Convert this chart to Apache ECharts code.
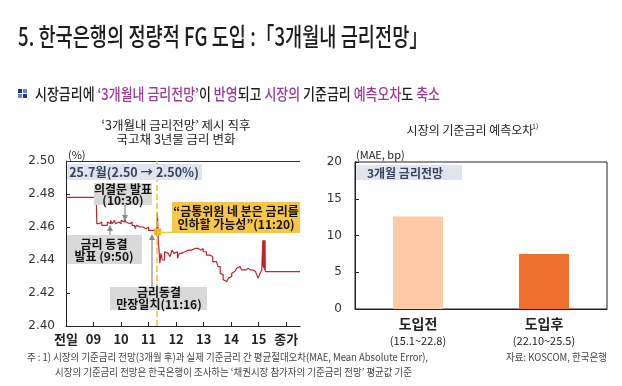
<!DOCTYPE html>
<html><head><meta charset="utf-8">
<script src="https://cdn.jsdelivr.net/npm/echarts@6/dist/echarts.min.js"></script>
<style>html,body{margin:0;padding:0;background:#fff}#c{width:622px;height:386px}</style>
</head><body><div id="c"></div>
<script>
// ---- data ----
const xTickValues = [8, 9, 10, 11, 12, 13, 14, 15, 16];
const xTickLabels = ['전일', '09', '10', '11', '12', '13', '14', '15', '종가'];
const leftYTicks = [2.40, 2.42, 2.44, 2.46, 2.48, 2.50];
const lineTimes = [8.00, 9.10, 9.12, 9.20, 9.25, 9.30, 9.38, 9.45, 9.50, 9.55, 9.62, 9.68, 9.75, 9.80, 9.86, 9.92,
  10.00, 10.05, 10.12, 10.18, 10.25, 10.32, 10.40, 10.48, 10.52, 10.55, 10.60, 10.70, 10.80, 10.90,
  11.00, 11.10, 11.20, 11.30, 11.32, 11.35, 11.38, 11.41, 11.45, 11.50, 11.58, 11.65, 11.72, 11.78, 11.85, 11.92, 11.98,
  12.05, 12.12, 12.20, 12.32, 12.45, 12.55, 12.69, 12.80, 12.90, 12.98,
  13.10, 13.23, 13.33, 13.47, 13.52, 13.60, 13.66, 13.71, 13.78, 13.84, 13.90, 13.96,
  14.02, 14.07, 14.13, 14.20, 14.26, 14.32, 14.38, 14.44, 14.52, 14.62, 14.70, 14.80, 14.88, 14.93, 14.98,
  15.05, 15.11, 15.14, 15.15, 15.16, 15.17, 15.18, 15.19, 15.20, 15.21, 15.22, 15.23, 15.24, 15.26, 16.50];
const lineRates = [2.478, 2.478, 2.462, 2.461, 2.463, 2.461, 2.462, 2.461, 2.463, 2.462, 2.464, 2.462, 2.464, 2.462, 2.463, 2.462,
  2.464, 2.463, 2.465, 2.463, 2.462, 2.463, 2.461, 2.461, 2.459, 2.461, 2.460, 2.460, 2.459, 2.460,
  2.458, 2.458, 2.457, 2.457, 2.469, 2.452, 2.446, 2.438, 2.444, 2.440, 2.445, 2.444, 2.445, 2.442, 2.446, 2.444, 2.445,
  2.441, 2.444, 2.445, 2.446, 2.446, 2.447, 2.447, 2.446, 2.447, 2.445,
  2.443, 2.442, 2.439, 2.438, 2.436, 2.432, 2.431, 2.428, 2.427, 2.426, 2.429, 2.430,
  2.432, 2.433, 2.434, 2.435, 2.436, 2.436, 2.434, 2.434, 2.435, 2.434, 2.434, 2.433, 2.432, 2.431, 2.429,
  2.432, 2.434, 2.434, 2.452, 2.436, 2.452, 2.435, 2.452, 2.435, 2.452, 2.434, 2.452, 2.433, 2.433, 2.433];
const markTime = 11.28;          // "금통위원 ..." comment (11:20)
const markPointTime = 11.33;
const markPointRate = 2.457;
const barCategories = ['도입전', '도입후'];
const barPeriods = ['(15.1~22.8)', '(22.10~25.5)'];
const barValues = [12.6, 7.5];
const barColors = ['#fccba6', '#f0702f'];
const rightYTicks = [0, 5, 10, 15, 20];

// ---- helpers ----
const FF = '"Noto Sans CJK KR", "Noto Sans", sans-serif';
const cv = document.createElement('canvas').getContext('2d');
function fitScale(text, font, w) { cv.font = font; return w / cv.measureText(text).width; }

function boxText(x, y, w, h, fill, lines, cx, ys, font, color) {
  const els = [{ type: 'rect', shape: { x: x, y: y, width: w, height: h }, style: { fill: fill }, z: 10 }];
  lines.forEach((t, i) => els.push({ type: 'text', x: cx, y: ys[i], z: 11,
    style: { text: t, font: font, fill: color, align: 'center', verticalAlign: 'middle' } }));
  return els;
}
function arrow(x, y1, y2, color) {
  const dir = y2 < y1 ? 1 : -1;
  return [
    { type: 'line', shape: { x1: x, y1: y1, x2: x, y2: y2 + dir * 4 }, style: { stroke: color, lineWidth: 1.2 }, z: 12 },
    { type: 'polygon', shape: { points: [[x - 3, y2 + dir * 6], [x + 3, y2 + dir * 6], [x, y2]] }, style: { fill: color }, z: 12 }
  ];
}

const titleFont = '500 25px ' + FF;
const titleText = '5. 한국은행의 정량적 FG 도입 :「3개월내 금리전망」';
const subFont = '500 16px ' + FF;
const subPlain = '시장금리에 ‘3개월내 금리전망’이 반영되고 시장의 기준금리 예측오차도 축소';
const noteFont = '10.5px ' + FF;
const note1 = '주 : 1) 시장의 기준금리 전망(3개월 후)과 실제 기준금리 간 평균절대오차(MAE, Mean Absolute Error),';
const note2 = '시장의 기준금리 전망은 한국은행이 조사하는 ‘채권시장 참가자의 기준금리 전망’ 평균값 기준';
const srcText = '자료: KOSCOM, 한국은행';

const annFont = 'bold 12px ' + FF;
const grey = '#d9d9d9';
const arrowC = '#8a8a8a';

const graphics = [
  { type: 'text', x: 18, y: 36, scaleX: fitScale(titleText, titleFont, 410),
    style: { text: titleText, font: titleFont, fill: '#1d1d1d', verticalAlign: 'middle' } },
  // icon
  { type: 'rect', shape: { x: 18, y: 89, width: 4, height: 4 }, style: { fill: '#1f3b73' } },
  { type: 'rect', shape: { x: 23, y: 89, width: 4, height: 4 }, style: { fill: '#5b8bd0' } },
  { type: 'rect', shape: { x: 18, y: 94, width: 4, height: 4 }, style: { fill: '#5b8bd0' } },
  { type: 'rect', shape: { x: 23, y: 94, width: 4, height: 4 }, style: { fill: '#1f3b73' } },
  { type: 'text', x: 35, y: 94, scaleX: fitScale(subPlain, subFont, 405),
    style: { text: '{k|시장금리에 }{p|‘3개월내 금리전망’}{k|이 }{p|반영}{k|되고 }{p|시장의}{k| 기준금리 }{p|예측오차}{k|도 }{p|축소}',
      verticalAlign: 'middle',
      rich: { k: { fill: '#1d1d1d', font: subFont }, p: { fill: '#9b3a97', font: subFont } } } },
  // chart titles
  { type: 'text', x: 176, y: 125, style: { text: '‘3개월내 금리전망’ 제시 직후', font: '12.5px ' + FF, fill: '#222', align: 'center', verticalAlign: 'middle' } },
  { type: 'text', x: 176, y: 139, style: { text: '국고채 3년물 금리 변화', font: '12.5px ' + FF, fill: '#222', align: 'center', verticalAlign: 'middle' } },
  { type: 'text', x: 68, y: 155, style: { text: '(%)', font: '11px ' + FF, fill: '#222', verticalAlign: 'middle' } },
  { type: 'text', x: 470, y: 130, style: { text: '시장의 기준금리 예측오차', font: '12px ' + FF, fill: '#222', align: 'center', verticalAlign: 'middle' } },
  { type: 'text', x: 532, y: 126, style: { text: '1)', font: '7px ' + FF, fill: '#222', verticalAlign: 'middle' } },
  { type: 'text', x: 356, y: 155, style: { text: '(MAE, bp)', font: '11px ' + FF, fill: '#222', verticalAlign: 'middle' } },
  // top border of left plot
  { type: 'line', shape: { x1: 66, y1: 161.5, x2: 300, y2: 161.5 }, style: { stroke: '#333', lineWidth: 1 }, z: 5 },
  // notes
  { type: 'text', x: 27, y: 357, scaleX: fitScale(note1, noteFont, 401), style: { text: note1, font: noteFont, fill: '#444', verticalAlign: 'middle' } },
  { type: 'text', x: 55, y: 372, scaleX: fitScale(note2, noteFont, 357), style: { text: note2, font: noteFont, fill: '#444', verticalAlign: 'middle' } },
  { type: 'text', x: 506, y: 357, scaleX: fitScale(srcText, noteFont, 101), style: { text: srcText, font: noteFont, fill: '#444', verticalAlign: 'middle' } },
  // legend-like boxes
  ...boxText(67, 164, 135, 16, '#dfe4ee', ['25.7월(2.50 → 2.50%)'], 134, [172], 'bold 12.5px ' + FF, '#34435e'),
  ...boxText(356, 165, 106, 15, '#dfe4ee', ['3개월 금리전망'], 405, [173], 'bold 12px ' + FF, '#34435e'),
  // annotations
  ...boxText(94, 183, 58, 22, grey, ['의결문 발표', '(10:30)'], 123, [189, 200], annFont, '#111'),
  ...arrow(125, 205, 221, arrowC),
  ...boxText(67, 235, 75, 29, grey, ['금리 동결', '발표 (9:50)'], 104, [244, 256], annFont, '#111'),
  ...arrow(110, 235, 225, arrowC),
  ...boxText(110, 287, 97, 23, grey, ['금리동결', '만장일치(11:16)'], 159, [292, 304], annFont, '#111'),
  ...arrow(152, 287, 234, arrowC),
  ...boxText(172, 202, 128, 31, '#f6c646', ['“금통위원 네 분은 금리를', '인하할 가능성”(11:20)'], 236, [211, 224], annFont, '#111'),
  { type: 'line', shape: { x1: 158, y1: 232.5, x2: 172, y2: 232.5 }, style: { stroke: '#f6c646', lineWidth: 1.5 }, z: 9 }
];

const chart = echarts.init(document.getElementById('c'), null, { renderer: 'canvas' });
chart.setOption({
  animation: false,
  textStyle: { fontFamily: FF },
  grid: [
    { left: 66, top: 161, width: 234, height: 165 },
    { left: 355, top: 162, width: 252, height: 147, show: true, borderColor: '#222', borderWidth: 1 }
  ],
  xAxis: [
    { gridIndex: 0, type: 'value', min: 8, max: 16.5, interval: 1,
      axisLine: { lineStyle: { color: '#222' } },
      axisTick: { inside: true, length: 4, customValues: xTickValues, lineStyle: { color: '#222' } },
      axisLabel: { customValues: xTickValues, formatter: v => xTickLabels[xTickValues.indexOf(v)],
        fontSize: 13, fontWeight: 'bold', color: '#222', margin: 7 },
      splitLine: { show: false } },
    { gridIndex: 1, type: 'category', data: barCategories,
      axisLine: { lineStyle: { color: '#222' } },
      axisTick: { inside: true, length: 4, lineStyle: { color: '#222' } },
      axisLabel: { interval: 0, margin: 6,
        formatter: (v, i) => '{a|' + v + '}\n{b|' + barPeriods[i] + '}',
        rich: { a: { fontSize: 14, fontWeight: 'bold', color: '#222', lineHeight: 18 },
                b: { fontSize: 11, color: '#222', lineHeight: 16 } } } }
  ],
  yAxis: [
    { gridIndex: 0, type: 'value', min: 2.40, max: 2.50, interval: 0.02,
      axisLine: { show: true, lineStyle: { color: '#222' } },
      axisTick: { show: true, inside: true, length: 4, lineStyle: { color: '#222' } },
      axisLabel: { formatter: v => v.toFixed(2), fontSize: 12, color: '#333', margin: 11, fontFamily: 'DejaVu Sans' },
      splitLine: { show: false } },
    { gridIndex: 1, type: 'value', min: 0, max: 20, interval: 5,
      axisLine: { show: true, lineStyle: { color: '#222' } },
      axisTick: { show: true, inside: true, length: 4, lineStyle: { color: '#222' } },
      axisLabel: { fontSize: 12, color: '#333', margin: 13, fontFamily: 'DejaVu Sans' },
      splitLine: { show: false } }
  ],
  series: [
    { type: 'line', xAxisIndex: 0, yAxisIndex: 0, step: 'end', showSymbol: false, z: 3,
      data: lineTimes.map((t, i) => [t, lineRates[i]]),
      lineStyle: { color: '#c1222c', width: 1.2 },
      markLine: { silent: true, symbol: 'none', label: { show: false },
        lineStyle: { color: '#f2c12e', type: 'dashed', width: 1.5 }, data: [{ xAxis: markTime }] },
      markPoint: { silent: true, symbol: 'rect', symbolSize: 7, label: { show: false },
        itemStyle: { color: '#f5b324' }, data: [{ coord: [markPointTime, markPointRate] }] } },
    { type: 'bar', xAxisIndex: 1, yAxisIndex: 1, barWidth: 50,
      data: barValues.map((v, i) => ({ value: v, itemStyle: { color: barColors[i] } })) }
  ],
  graphic: graphics
});
</script>
</body></html>
